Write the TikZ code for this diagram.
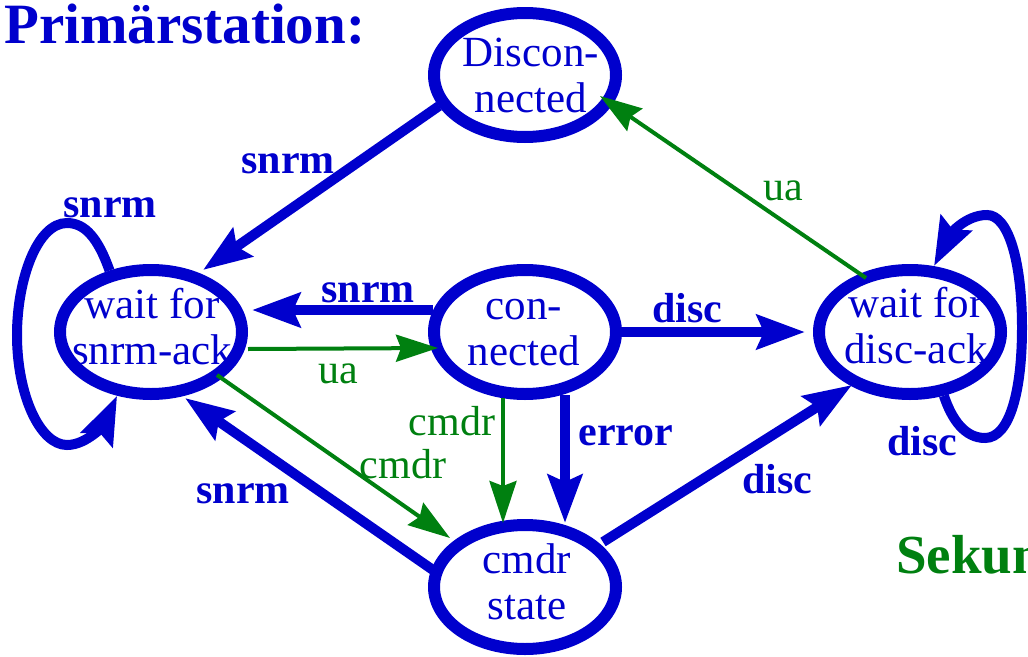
\documentclass[tikz,border=0pt]{standalone}
\usepackage{fontspec}
\setmainfont{Liberation Serif}
\usetikzlibrary{shapes.geometric,arrows.meta,calc}
\definecolor{myblue}{RGB}{0,0,205}
\definecolor{mygreen}{RGB}{0,128,16}
\tikzset{
  st/.style={ellipse, draw=myblue, line width=12pt, minimum width=182pt, minimum height=124pt, inner sep=0pt},
  txt/.style={text=myblue, font=\fontsize{43}{46}\selectfont, align=center, inner sep=0pt},
  blab/.style={text=myblue, font=\bfseries\fontsize{42}{44}\selectfont, inner sep=0pt, anchor=base},
  glab/.style={text=mygreen, font=\fontsize{42}{44}\selectfont, inner sep=0pt, anchor=base},
  bedge/.style={draw=myblue, line width=10pt, -{Stealth[length=48pt,width=34pt,inset=7pt]}},
  gedge/.style={draw=mygreen, line width=4pt, -{Stealth[length=42pt,width=27pt,inset=5pt]}}
}
\begin{document}
\begin{tikzpicture}[x=1pt,y=-1pt]
\useasboundingbox (0,0) rectangle (1028,656);
\clip (0,0) rectangle (1028,656);
% titles
\node[anchor=base west, inner sep=0pt, text=myblue, font=\bfseries\fontsize{57}{60}\selectfont] (title) at (4,43) {Primärstation:};
\node[anchor=base west, inner sep=0pt, text=mygreen, font=\bfseries\fontsize{55}{58}\selectfont] (sek) at (896,573) {Sekundärstation:};
% state texts
\node[txt] (tD) at (531,75.5) {Discon-\\nected};
\node[txt] (tA) at (152,327) {wait for\\snrm-ack};
\node[txt] (tC) at (524,333) {con-\\nected};
\node[txt] (tR) at (916,326) {wait for\\disc-ack};
\node[txt] (tS) at (527,582) {cmdr\\state};
% state ellipses
\node[st] (D) at (525,75) {};
\node[st] (A) at (151,332) {};
\node[st] (C) at (525,332) {};
\node[st] (R) at (910,332) {};
\node[st] (S) at (525,587) {};
% blue edges
\draw[bedge] ($(D)+(-86,31)$) -- ($(A)+(52,-62)$);
\draw[bedge] ($(C)+(-92,-22)$) -- ($(A)+(101,-22)$);
\draw[bedge] ($(C)+(97,0)$) -- ($(R)+(-105,0)$);
\draw[bedge] ($(C)+(40,63)$) -- ($(S)+(40,-64)$);
\draw[bedge] ($(S)+(-92,-17)$) -- ($(A)+(34,66)$);
\draw[bedge] ($(S)+(78,-45)$) -- ($(R)+(-58,53)$);
% loops
\draw[bedge] (A.124) .. controls (98,238) and (85,223) .. (67,223)
  .. controls (37,223) and (17,280) .. (17,335)
  .. controls (17,395) and (40,445) .. (67,445)
  .. controls (88,445) and (105,422) .. (A.242);
\draw[bedge] (R.298) .. controls (952,420) and (965,438) .. (985,438)
  .. controls (1010,438) and (1022,390) .. (1022,328)
  .. controls (1022,260) and (1008,215) .. (987,215)
  .. controls (965,215) and (950,235) .. (R.70);
% green edges
\draw[gedge] ($(A)+(97,17)$) -- ($(C)+(-87,16)$);
\draw[gedge] ($(R)+(-44,-54)$) -- ($(D)+(75,21)$);
\draw[gedge] ($(C)+(-22,66)$) -- ($(S)+(-22,-64)$);
\draw[gedge] ($(A)+(66,43)$) -- ($(S)+(-75,-49)$);
% labels
\node[blab] (l1) at (288,173) {snrm};
\node[blab] (l2) at (110,217) {snrm};
\node[blab] (l3) at (368,302) {snrm};
\node[blab] (l4) at (243,503) {snrm};
\node[blab] (l5) at (687,322) {disc};
\node[blab] (l6) at (777,493) {disc};
\node[blab] (l7) at (922,455) {disc};
\node[blab] (l8) at (626,445) {error};
\node[glab] (l9) at (338,383) {ua};
\node[glab] (l10) at (783,200) {ua};
\node[glab] (l11) at (452,435) {cmdr};
\node[glab] (l12) at (403,478) {cmdr};
\end{tikzpicture}
\end{document}
